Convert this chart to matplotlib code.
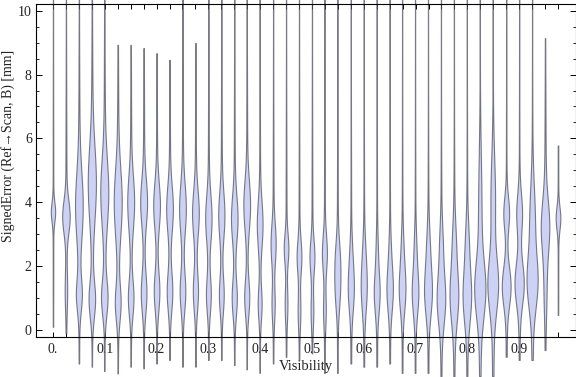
import numpy as np
import matplotlib
matplotlib.use("Agg")
import matplotlib.pyplot as plt
from matplotlib.ticker import FixedLocator, MultipleLocator

# ---- data ----
visibility = [0.0, 0.025, 0.05, 0.075, 0.1, 0.125, 0.15, 0.175, 0.2, 0.225,
              0.25, 0.275, 0.3, 0.325, 0.35, 0.375, 0.4, 0.425, 0.45, 0.475,
              0.5, 0.525, 0.55, 0.575, 0.6, 0.625, 0.65, 0.675, 0.7, 0.725,
              0.75, 0.775, 0.8, 0.825, 0.85, 0.875, 0.9, 0.925, 0.95, 0.975]

err_min = [0.1, -0.1, -1.05, -1.15, -1.3, -1.36, -1.15, -1.2, -1.05, -0.94,
           -1.15, -1.15, -0.94, -0.94, -1.1, -1.25, -1.36, -1.05, -0.84, -0.94,
           -0.73, -1.36, -1.36, -1.05, -1.15, -1.15, -1.05, -1.36, -1.36, -1.36,
           -1.46, -1.5, -1.46, -1.46, -1.46, -0.84, -0.94, -0.94, -0.63, 0.47]
err_max = [10.6, 10.6, 10.6, 10.6, 10.6, 8.93, 8.93, 8.83, 8.67, 8.46,
           10.6, 8.99, 10.6, 10.6, 10.6, 10.6, 10.6, 10.6, 10.6, 10.6,
           10.6, 10.6, 10.6, 10.6, 10.6, 10.6, 10.6, 10.6, 10.6, 10.6,
           10.6, 10.6, 10.6, 10.6, 10.6, 10.6, 10.6, 10.6, 9.14, 5.78]

# main mode
mode1_loc = [3.7, 3.55, 3.9, 4.6, 4.3, 4.0, 4.0, 4.0, 3.9, 3.8,
             3.8, 3.66, 3.5, 3.6, 3.5, 3.9, 3.3, 2.7, 2.55, 2.3,
             2.3, 2.4, 2.2, 1.25, 1.3, 1.15, 1.25, 1.25, 1.15, 1.15,
             0.95, 1.05, 1.05, 1.25, 1.4, 1.36, 1.46, 1.5, 3.24, 3.5]
mode1_dens = [2.3, 4.0, 3.8, 4.0, 4.0, 4.0, 3.5, 3.5, 3.5, 3.5,
              3.5, 3.5, 3.3, 3.2, 3.4, 3.5, 3.0, 2.6, 2.3, 2.4,
              2.5, 2.5, 2.3, 3.0, 3.0, 3.0, 3.3, 3.5, 3.5, 4.0,
              4.5, 4.5, 4.5, 5.5, 5.3, 4.7, 5.0, 5.5, 4.3, 2.5]
mode1_sd = [0.3, 0.5, 1.0, 1.1, 1.0, 1.0, 0.8, 0.7, 0.7, 0.7,
            0.75, 0.7, 0.7, 0.7, 0.7, 0.75, 0.7, 0.6, 0.45, 0.5,
            0.5, 0.55, 0.6, 0.65, 0.7, 0.6, 0.65, 0.65, 0.65, 0.7,
            0.75, 0.8, 0.8, 0.85, 0.8, 0.6, 0.65, 0.8, 0.8, 0.35]

# secondary mode
mode2_loc = [1.0, 1.2, 1.1, 0.95, 1.0, 0.85, 1.0, 1.15, 1.2, 1.2,
             1.2, 1.2, 1.1, 1.1, 1.0, 1.0, 0.8, 0.8, 0.8, 0.6,
             0.6, 0.6, 1.2, 2.3, 2.4, 2.4, 2.4, 2.5, 2.5, 2.5,
             2.6, 2.7, 2.7, 4.0, 4.2, 3.66, 3.66, 3.5, 1.2, 1.0]
mode2_dens = [0.0, 1.0, 3.0, 3.5, 3.5, 3.0, 3.0, 3.0, 3.0, 3.0,
              3.0, 2.7, 2.5, 2.5, 2.7, 2.7, 2.0, 1.5, 1.2, 1.2,
              1.2, 1.2, 2.3, 1.0, 1.0, 0.8, 0.8, 1.0, 1.0, 1.5,
              1.5, 1.5, 1.5, 1.2, 2.0, 3.0, 3.0, 2.5, 1.0, 0.0]
mode2_sd = [0.5, 0.6, 0.5, 0.55, 0.55, 0.55, 0.55, 0.6, 0.6, 0.6,
            0.6, 0.6, 0.55, 0.55, 0.55, 0.55, 0.5, 0.5, 0.5, 0.5,
            0.5, 0.5, 0.6, 0.6, 0.6, 0.6, 0.6, 0.6, 0.6, 0.7,
            0.7, 0.7, 0.7, 1.5, 1.2, 0.5, 0.6, 1.0, 0.8, 0.5]

# long upper/lower tail
tail_dens = [0.3, 0.6, 0.9, 1.0, 0.9, 0.9, 0.7, 0.7, 0.6, 0.6,
             0.6, 0.6, 0.6, 0.6, 0.6, 0.6, 0.5, 0.5, 0.5, 0.5,
             0.5, 0.5, 0.5, 0.5, 0.5, 0.5, 0.5, 0.5, 0.5, 0.6,
             0.7, 0.8, 0.7, 1.2, 1.2, 0.7, 0.7, 1.0, 0.9, 0.3]

xtick_labels = ["0.", "0.1", "0.2", "0.3", "0.4", "0.5", "0.6", "0.7", "0.8", "0.9"]

# ---- style ----
W, H = 576, 377
FILL = "#ccd2f5"
EDGE = (0.28, 0.28, 0.32, 0.7)
TXT = "#222222"
SCALE = 0.8   # pixels of half-width per density unit
plt.rcParams["font.family"] = ["Liberation Serif", "DejaVu Serif"]

fig = plt.figure(figsize=(W / 100, H / 100), dpi=100)
ax = fig.add_axes([36 / W, 1 - 337 / H, (575.5 - 36) / W, (337 - 4) / H])
ax.set_xlim(-0.0328, 1.0088)
ax.set_ylim(-0.22, 10.21)

px = (1.0088 + 0.0328) / (575.5 - 36)  # data units per pixel in x

def g(v, m, s):
    return np.exp(-0.5 * ((v - m) / s) ** 2)

for i, pos in enumerate(visibility):
    v = np.linspace(err_min[i], err_max[i], 400)
    dens = (mode1_dens[i] * g(v, mode1_loc[i], mode1_sd[i])
            + mode2_dens[i] * g(v, mode2_loc[i], mode2_sd[i])
            + tail_dens[i] * g(v, mode1_loc[i], 3.0)
            + 0.12)
    half = dens * SCALE * px
    ax.fill_betweenx(v, pos - half, pos + half, facecolor=FILL,
                     edgecolor=EDGE, linewidth=0.8, clip_on=False, zorder=2)

for sp in ax.spines.values():
    sp.set_color("black")
    sp.set_linewidth(0.8)

ax.xaxis.set_major_locator(FixedLocator(visibility))
ax.set_xticklabels([xtick_labels[i // 4] if i % 4 == 0 else "" for i in range(len(visibility))])
ax.set_yticks([0, 2, 4, 6, 8, 10])
ax.set_yticklabels(["0", "2", "4", "6", "8", "10"])
ax.yaxis.set_minor_locator(MultipleLocator(0.5))
ax.tick_params(axis="x", which="major", direction="in", length=3.5, width=0.7,
               top=True, bottom=True, labelsize=10, labelcolor=TXT, pad=4)
ax.tick_params(axis="y", which="major", direction="in", length=4.5, width=0.7,
               left=True, right=True, labelsize=10, labelcolor=TXT, pad=3)
ax.tick_params(axis="y", which="minor", direction="in", length=2.5, width=0.6,
               left=True, right=True)

ax.set_xlabel("Visibility", fontsize=10.5, color=TXT, labelpad=3)
ax.set_ylabel("SignedError (Ref\u2192Scan, B) [mm]", fontsize=10, color=TXT,
              family=["Liberation Serif", "DejaVu Sans"], va="center")
ax.yaxis.set_label_coords(-0.051, 0.575)

fig.savefig("out.png", dpi=100)
